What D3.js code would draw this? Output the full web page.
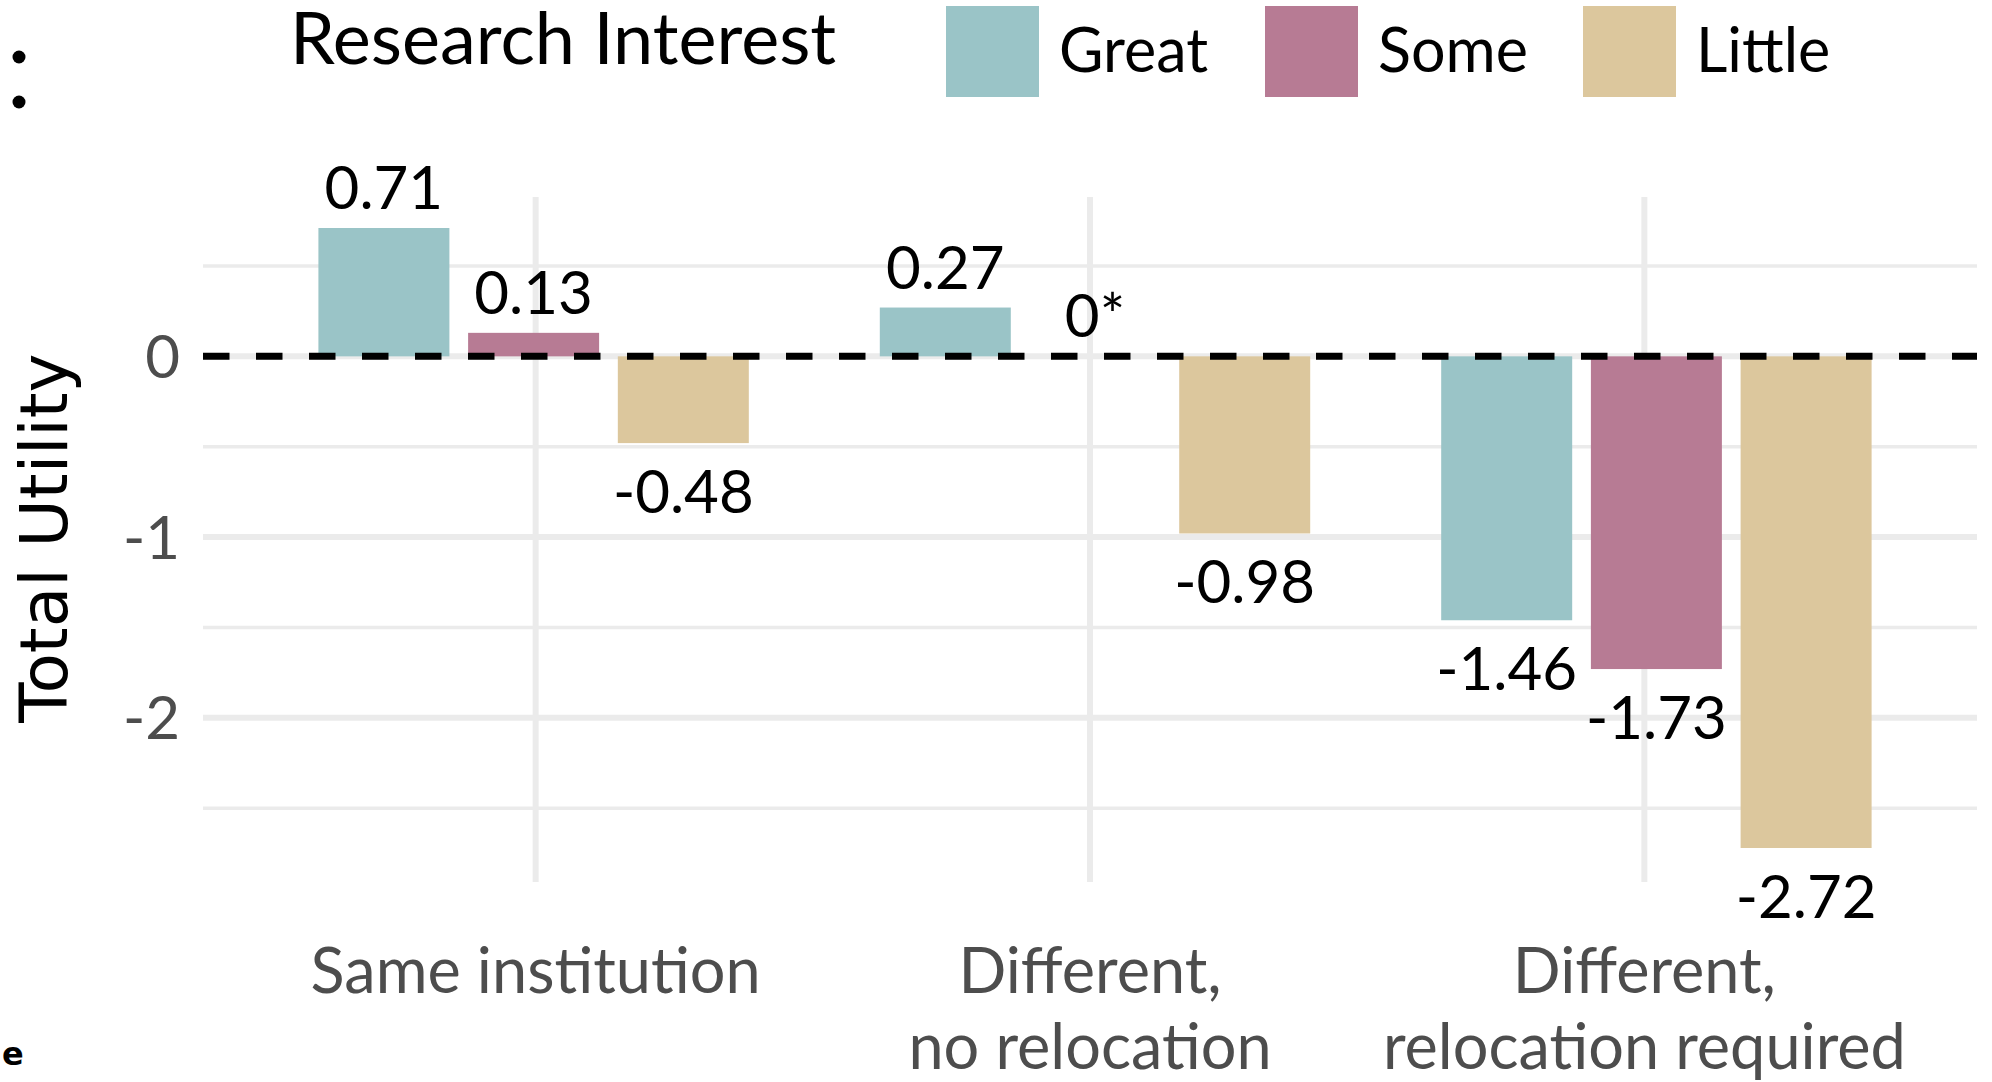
<!DOCTYPE html>
<html lang="en">
<head>
<meta charset="UTF-8">
<title>Total Utility by Research Interest</title>
<style>
    body { margin: 0; background: #fff; }
    svg { display: block; }
    .lbl { font-family: Lato, sans-serif; fill: #000; }
    .axis-text { font-family: Lato, sans-serif; fill: #4d4d4d; }
</style>
<script src="https://d3js.org/d3.v7.min.js"></script>
</head>
<body>
<div id="graph"></div>
<script>
    // data
    const categories = ["Same institution", "Different,\nno relocation", "Different,\nrelocation required"];
    const seriesNames = ["Great", "Some", "Little"];
    const great = [0.71, 0.27, -1.46];
    const some = [0.13, 0, -1.73];
    const little = [-0.48, -0.98, -2.72];
    const yTicks = [-2, -1, 0];
    const yMinor = [-2.5, -1.5, -0.5, 0.5];
    const colors = ["#9ac4c7", "#b77b94", "#dcc79d"];

    const width = 1992, height = 1082;
    const margins = { top: 197, bottom: 200, left: 203, right: 15 };

    const svg = d3.select("#graph").append("svg")
        .attr("width", width)
        .attr("height", height);

    const rows = [];
    categories.forEach((c, ci) => {
        [great, some, little].forEach((arr, si) => {
            rows.push({ cat: c, series: seriesNames[si], value: arr[ci] });
        });
    });

    // ggplot style 5% expansion
    const vMin = d3.min(rows, d => d.value), vMax = d3.max(rows, d => d.value);
    const pad = (vMax - vMin) * 0.05;
    const yScale = d3.scaleLinear()
        .domain([vMin - pad, vMax + pad])
        .range([height - margins.bottom - 3, margins.top]);

    const xScale = d3.scalePoint()
        .domain(categories)
        .range([margins.left, width - margins.right])
        .padding(0.6);

    // the bar groups sit slightly wider apart than the grid lines
    const barX = d3.scalePoint()
        .domain(categories)
        .range([margins.left + 5, width - margins.right + 5])
        .padding(0.58);
    const step = barX.step();

    const dodge = 0.8;
    const inner = d3.scaleBand()
        .domain(seriesNames)
        .range([-dodge / 2 * step, dodge / 2 * step])
        .paddingInner(0.125)
        .paddingOuter(0.0625);
    const colorScale = d3.scaleOrdinal().domain(seriesNames).range(colors);

    const x0 = margins.left, x1 = width - margins.right;
    const yTop = yScale.range()[1], yBot = yScale.range()[0];

    // grid
    const grid = svg.append("g");
    grid.selectAll(".minor").data(yMinor).enter().append("line")
        .attr("x1", x0).attr("x2", x1)
        .attr("y1", d => yScale(d)).attr("y2", d => yScale(d))
        .attr("stroke", "#ebebeb").attr("stroke-width", 3.5);
    grid.selectAll(".major").data(yTicks).enter().append("line")
        .attr("x1", x0).attr("x2", x1)
        .attr("y1", d => yScale(d)).attr("y2", d => yScale(d))
        .attr("stroke", "#ebebeb").attr("stroke-width", 6);
    grid.selectAll(".vmajor").data(categories).enter().append("line")
        .attr("x1", d => xScale(d)).attr("x2", d => xScale(d))
        .attr("y1", yTop).attr("y2", yBot + 3)
        .attr("stroke", "#ebebeb").attr("stroke-width", 6);

    // bars
    svg.selectAll(".bar").data(rows).enter().append("rect")
        .attr("x", d => barX(d.cat) + inner(d.series))
        .attr("width", inner.bandwidth())
        .attr("y", d => yScale(Math.max(0, d.value)))
        .attr("height", d => Math.abs(yScale(d.value) - yScale(0)))
        .attr("fill", d => colorScale(d.series));

    // zero line
    svg.append("line")
        .attr("x1", x0).attr("x2", x1)
        .attr("y1", yScale(0)).attr("y2", yScale(0))
        .attr("stroke", "#000").attr("stroke-width", 7)
        .attr("stroke-dasharray", "26.5 26.5");

    // value labels
    svg.selectAll(".val").data(rows).enter().append("text")
        .attr("class", "lbl")
        .attr("text-anchor", "middle")
        .attr("font-size", 60)
        .attr("x", d => barX(d.cat) + inner(d.series) + inner.bandwidth() / 2)
        .attr("y", d => d.value >= 0 ? yScale(d.value) - 19 : yScale(d.value) + 70)
        .text(d => d.value === 0 ? "0*" : d.value.toFixed(2));

    // y axis
    svg.selectAll(".ytick").data(yTicks).enter().append("text")
        .attr("class", "axis-text")
        .attr("text-anchor", "end")
        .attr("font-size", 60)
        .attr("x", 180)
        .attr("y", d => yScale(d))
        .attr("dy", "0.36em")
        .text(d => d);

    svg.append("text")
        .attr("transform", `translate(67, ${(yTop + yBot) / 2}) rotate(-90)`)
        .attr("text-anchor", "middle")
        .attr("font-family", "DejaVu Sans, sans-serif")
        .attr("font-size", 66)
        .attr("fill", "#000")
        .text("Total Utility");

    // x axis
    const xl = svg.selectAll(".xtick").data(categories).enter().append("text")
        .attr("class", "axis-text")
        .attr("text-anchor", "middle")
        .attr("font-size", 63)
        .attr("x", d => xScale(d))
        .attr("y", 993);
    xl.selectAll("tspan").data(d => d.split("\n").map(t => ({ t, x: xScale(d) }))).enter()
        .append("tspan")
        .attr("x", d => d.x)
        .attr("dy", (d, i) => i === 0 ? 0 : 76)
        .text(d => d.t);

    // legend
    svg.append("text")
        .attr("class", "lbl")
        .attr("font-size", 72)
        .attr("x", 290).attr("y", 64)
        .text("Research Interest");

    const legendX = [946, 1265, 1583];
    const leg = svg.selectAll(".leg").data(seriesNames).enter().append("g")
        .attr("transform", (d, i) => `translate(${legendX[i]}, 6)`);
    leg.append("rect")
        .attr("width", 93).attr("height", 91)
        .attr("fill", d => colorScale(d));
    leg.append("text")
        .attr("class", "lbl")
        .attr("font-size", 61)
        .attr("x", 113).attr("y", 66)
        .text(d => d);

    // fragments of neighbouring panels, cropped at the edge
    svg.selectAll(".colon").data([57, 102]).enter().append("circle")
        .attr("cx", 19).attr("cy", d => d).attr("r", 6.5)
        .attr("fill", "#000");
    svg.append("text")
        .attr("font-family", "DejaVu Sans, sans-serif")
        .attr("font-weight", "bold")
        .attr("font-size", 32)
        .attr("x", 2).attr("y", 1065)
        .text("e");
</script>
</body>
</html>
